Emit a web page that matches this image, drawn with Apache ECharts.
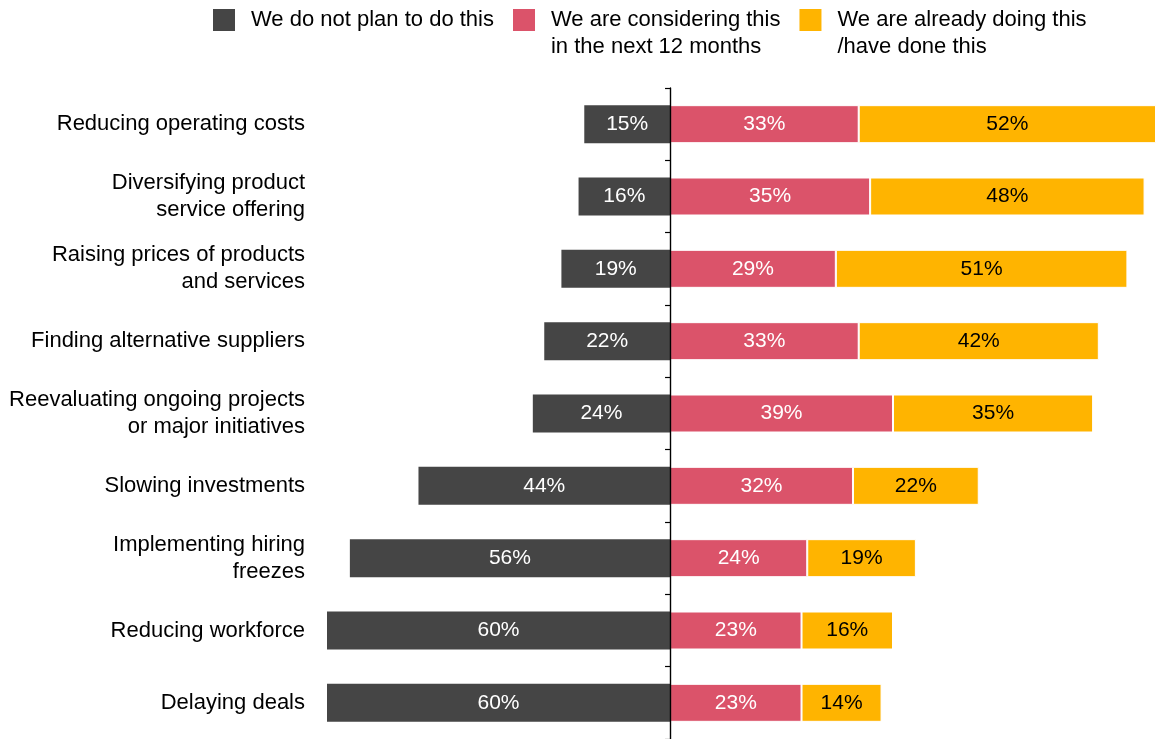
<!DOCTYPE html>
<html><head><meta charset="utf-8">
<script src="https://cdn.jsdelivr.net/npm/echarts@6/dist/echarts.min.js"></script>
<style>html,body{margin:0;padding:0;background:#fff}#c{width:1161px;height:739px}</style>
</head><body><div id="c"></div>
<script>
var categories = [
  "Reducing operating costs",
  "Diversifying product\nservice offering",
  "Raising prices of products\nand services",
  "Finding alternative suppliers",
  "Reevaluating ongoing projects\nor major initiatives",
  "Slowing investments",
  "Implementing hiring\nfreezes",
  "Reducing workforce",
  "Delaying deals"
];
var seriesNames = ["We do not plan to do this", "We are considering this\nin the next 12 months", "We are already doing this\n/have done this"];
var notPlan = [15, 16, 19, 22, 24, 44, 56, 60, 60];
var considering = [33, 35, 29, 33, 39, 32, 24, 23, 23];
var already = [52, 48, 51, 42, 35, 22, 19, 16, 14];

var font = "Liberation Sans, Arial, sans-serif";
var chart = echarts.init(document.getElementById('c'));
function lbl(color){
  return {show:true, position:'inside', color:color, fontSize:21, fontFamily:font,
    formatter:function(p){return Math.abs(p.value)+'%';}};
}
chart.setOption({
  animation:false,
  legend:{
    top:-20.5, left:213, padding:0, itemWidth:22, itemHeight:22, itemGap:19,
    icon:'rect',
    itemStyle:{borderWidth:0},
    formatter:function(name){ return name.indexOf('\n') >= 0 ? '\n' + name : name; },
    textStyle:{fontSize:22, fontFamily:font, color:'#000', lineHeight:27, padding:[0,0,0,11]},
    data:seriesNames
  },
  grid:{left:327, right:5, top:88, height:652},
  xAxis:{type:'value', min:-60, max:85, show:false, splitLine:{show:false}},
  yAxis:[
    {type:'category', data:categories, inverse:true, z:10,
     axisLine:{show:true, onZero:true, lineStyle:{color:'#000', width:1.4}},
     axisTick:{show:true, length:5, lineStyle:{color:'#000', width:1.2}},
     axisLabel:{show:false}},
    {type:'category', data:categories, inverse:true, position:'left',
     axisLine:{show:false, onZero:false}, axisTick:{show:false},
     axisLabel:{show:true, margin:22, fontSize:22, lineHeight:27, padding:[6,0,0,0], fontFamily:font, color:'#000', align:'right'}}
  ],
  series:[
    {name:seriesNames[0], type:'bar', stack:'all', yAxisIndex:0, barWidth:38,
     data:notPlan.map(function(v){return -v;}),
     itemStyle:{color:'#454545'}, label:lbl('#fff')},
    {name:seriesNames[1], type:'bar', stack:'all', yAxisIndex:0, barWidth:38,
     data:considering, itemStyle:{color:'#DB536A', borderColor:'#fff', borderWidth:1}, label:lbl('#fff')},
    {name:seriesNames[2], type:'bar', stack:'all', yAxisIndex:0, barWidth:38,
     data:already, itemStyle:{color:'#FFB400', borderColor:'#fff', borderWidth:1}, label:lbl('#000')}
  ]
});
</script></body></html>
